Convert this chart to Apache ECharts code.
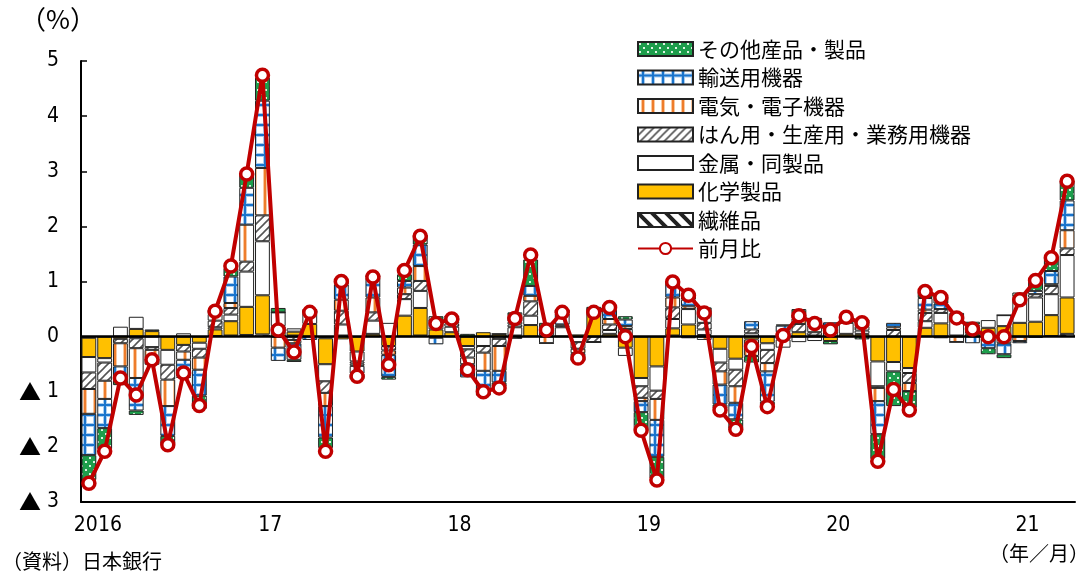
<!DOCTYPE html>
<html>
<head>
<meta charset="utf-8">
<script src="https://cdn.jsdelivr.net/npm/echarts@6/dist/echarts.min.js"></script>
<style>
  html, body { margin: 0; padding: 0; background: #fff; }
  #chart { width: 1091px; height: 576px; }
</style>
</head>
<body>
<div id="chart"></div>
<script>
// 月次カテゴリ（2016/1〜2021/3）
const months = [
  '2016-01','2016-02','2016-03','2016-04','2016-05','2016-06','2016-07','2016-08','2016-09','2016-10','2016-11','2016-12',
  '2017-01','2017-02','2017-03','2017-04','2017-05','2017-06','2017-07','2017-08','2017-09','2017-10','2017-11','2017-12',
  '2018-01','2018-02','2018-03','2018-04','2018-05','2018-06','2018-07','2018-08','2018-09','2018-10','2018-11','2018-12',
  '2019-01','2019-02','2019-03','2019-04','2019-05','2019-06','2019-07','2019-08','2019-09','2019-10','2019-11','2019-12',
  '2020-01','2020-02','2020-03','2020-04','2020-05','2020-06','2020-07','2020-08','2020-09','2020-10','2020-11','2020-12',
  '2021-01','2021-02','2021-03'
];
const yearLabels = ['2016', '17', '18', '19', '20', '21'];

// 寄与度（%ポイント）
const textile = [
  -0.02, 0, 0, -0.03, 0, 0, 0, 0, 0.01, 0.02, 0.03, 0.04,
  0, 0.02, 0, -0.03, 0.02, 0, 0, 0, 0, 0.02, 0, 0,
  0, 0, -0.04, -0.04, 0, 0, 0, 0, 0, 0, 0.02, 0,
  0, 0.02, 0, 0, 0, 0, 0, 0, 0.01, 0, 0, 0,
  0, 0, 0, 0, 0, 0, 0, 0, 0, -0.03, 0, 0,
  0, 0.01, 0.05
];
const chemical = [
  -0.35, -0.39, -0.04, 0.14, 0.10, -0.24, -0.15, -0.11, 0.12, 0.26, 0.51, 0.71,
  0.19, 0.07, 0.23, -0.47, -0.05, -0.27, 0.05, -0.17, 0.38, 0.50, 0.13, 0.08,
  -0.17, 0.08, 0.05, 0.02, 0.21, 0.02, 0, 0.04, 0.50, 0.05, -0.20, -0.75,
  -0.54, 0.13, 0.22, 0.03, -0.22, -0.40, -0.05, -0.12, -0.05, 0.08, 0.02, -0.08,
  0.05, 0.05, -0.45, -0.46, -0.57, 0.16, 0.24, 0.02, 0.05, 0.16, 0.19, 0.25,
  0.27, 0.38, 0.66
];
const metal = [
  -0.28, -0.08, 0.18, 0.22, -0.19, -0.27, 0.06, -0.11, 0.04, 0.12, 0.64, 0.98,
  0.25, 0.06, 0.22, -0.31, 0.20, -0.18, 0.24, 0.25, 0.30, 0.31, 0.16, 0.10,
  -0.06, -0.17, 0, 0.15, 0.17, 0.15, 0.17, -0.10, 0, 0.07, -0.15, -0.15,
  -0.44, 0.17, 0.28, 0.10, -0.25, -0.20, 0.06, -0.12, -0.15, -0.10, -0.08, 0.10,
  0.20, 0.06, -0.45, -0.17, -0.09, 0.12, 0.19, 0.35, 0.06, 0.14, 0.20, 0.45,
  0.44, 0.38, 0.77
];
const machinery = [
  -0.30, -0.33, -0.08, -0.18, -0.05, -0.27, -0.12, -0.16, 0.12, 0.12, 0.18, 0.47,
  0, -0.06, 0, -0.21, 0.25, -0.04, 0.15, -0.08, 0.09, 0.18, 0, 0.06,
  -0.15, -0.12, -0.13, 0.05, 0.26, 0, 0.03, -0.12, -0.10, 0.10, 0.12, -0.21,
  -0.15, 0.21, -0.03, 0.12, -0.16, -0.30, 0.07, -0.24, 0.05, 0.15, 0.06, 0.05,
  0.03, 0.08, -0.03, 0.12, -0.18, 0.15, 0.07, 0, 0.08, -0.03, 0, 0.02,
  0.06, 0.15, 0.12
];
const electric = [
  -0.45, -0.33, -0.42, -0.54, -0.15, -0.48, -0.15, -0.22, 0.12, 0.09, 0.67, 0.86,
  -0.20, -0.06, 0, -0.24, 0.20, -0.04, 0.27, -0.08, 0.12, 0.27, -0.02, 0.04,
  -0.12, -0.33, -0.45, 0.05, 0.10, -0.12, 0.02, -0.08, 0, 0.10, 0.05, -0.06,
  -0.38, 0.18, 0.05, -0.06, -0.24, -0.30, -0.30, -0.15, 0.02, 0.10, 0.12, 0.05,
  0.03, 0.04, -0.24, 0.05, -0.15, 0.06, -0.03, -0.10, 0.03, 0, -0.12, -0.08,
  -0.02, 0.03, 0.33
];
const transport = [
  -0.75, -0.53, -0.20, -0.59, -0.12, -0.54, -0.30, -0.47, 0.08, 0.48, 0.67, 1.22,
  -0.24, -0.30, -0.06, -0.57, 0.28, -0.14, 0.36, -0.40, 0.12, 0.39, -0.12, 0.06,
  -0.24, -0.39, -0.21, 0.10, 0.18, 0, 0.20, -0.12, 0, 0.17, 0.12, -0.20,
  -0.67, 0.27, 0.12, 0.18, -0.36, -0.30, 0.15, -0.55, 0.12, 0.08, 0.12, 0.06,
  0.02, 0.08, -0.60, 0.08, 0, 0.21, 0.10, 0, -0.12, -0.15, -0.20, -0.04,
  0.06, 0.24, 0.54
];
const others = [
  -0.45, -0.38, -0.14, -0.08, 0.03, -0.15, -0.03, -0.24, 0.02, 0.15, 0.27, 0.42,
  0.08, -0.04, 0.05, -0.19, 0.07, -0.10, 0.05, -0.05, 0.12, 0.18, 0.08, 0.04,
  0.05, -0.06, -0.08, 0.07, 0.48, 0.08, 0.07, 0, 0.04, 0.06, 0.06, -0.33,
  -0.39, 0.01, 0.12, 0.10, -0.08, -0.17, -0.12, -0.06, 0.02, 0.09, 0.02, -0.06,
  0.02, -0.05, -0.45, -0.63, -0.30, 0.12, 0.12, 0.06, 0.05, -0.11, -0.07, 0.08,
  0.18, 0.25, 0.36
];
// 前月比（%）
const momChange = [
  -2.66, -2.08, -0.75, -1.06, -0.42, -1.96, -0.66, -1.25, 0.46, 1.28, 2.95, 4.74,
  0.12, -0.28, 0.44, -2.08, 1.00, -0.72, 1.08, -0.51, 1.20, 1.82, 0.24, 0.32,
  -0.60, -1.00, -0.93, 0.33, 1.48, 0.12, 0.44, -0.39, 0.44, 0.53, 0.00, -1.70,
  -2.60, 0.99, 0.75, 0.43, -1.33, -1.68, -0.18, -1.27, 0.02, 0.38, 0.24, 0.12,
  0.35, 0.25, -2.26, -0.96, -1.33, 0.82, 0.71, 0.34, 0.14, 0.00, 0.00, 0.67,
  1.02, 1.43, 2.82
];

// 塗りパターン
function makePattern(w, h, draw) {
  const c = document.createElement('canvas');
  c.width = w;
  c.height = h;
  const g = c.getContext('2d');
  g.fillStyle = '#fff';
  g.fillRect(0, 0, w, h);
  draw(g);
  return { image: c, repeat: 'repeat' };
}
const fillOthers = makePattern(8, 8, g => {
  g.fillStyle = '#1e9e4c';
  g.fillRect(0, 0, 8, 8);
  g.fillStyle = '#dff5e4';
  g.fillRect(1, 1, 2, 2);
  g.fillRect(5, 5, 2, 2);
});
const fillTransport = makePattern(10, 10, g => {
  g.fillStyle = '#a9cdf0';
  g.fillRect(3, 0, 4, 10);
  g.fillRect(0, 3, 10, 4);
  g.fillStyle = '#1a74cc';
  g.fillRect(4, 0, 2, 10);
  g.fillRect(0, 4, 10, 2);
});
const fillElectric = makePattern(10, 4, g => {
  g.fillStyle = '#f9c8a0';
  g.fillRect(3, 0, 4, 4);
  g.fillStyle = '#ee7d2c';
  g.fillRect(4, 0, 2, 4);
});
const fillMachinery = makePattern(8, 8, g => {
  g.strokeStyle = '#555';
  g.lineWidth = 1.6;
  g.beginPath();
  g.moveTo(0, 8); g.lineTo(8, 0);
  g.moveTo(-2, 2); g.lineTo(2, -2);
  g.moveTo(6, 10); g.lineTo(10, 6);
  g.stroke();
});
const fillTextile = makePattern(14, 14, g => {
  g.strokeStyle = '#222';
  g.lineWidth = 4;
  g.beginPath();
  g.moveTo(0, 0); g.lineTo(14, 14);
  g.moveTo(-7, 7); g.lineTo(7, 21);
  g.moveTo(7, -7); g.lineTo(21, 7);
  g.stroke();
});

const fontJP = "'Noto Sans CJK JP', sans-serif";
const fontNum = "'DejaVu Sans Condensed', 'Liberation Sans Narrow', 'Noto Sans CJK JP', sans-serif";

function barSeries(name, data, fill) {
  return {
    name: name,
    type: 'bar',
    stack: 'total',
    barCategoryGap: '6%',
    data: data,
    itemStyle: { color: fill, borderColor: '#222', borderWidth: 1 }
  };
}

const chart = echarts.init(document.getElementById('chart'));
chart.setOption({
  animation: false,
  grid: { left: 81, right: 16, top: 61, bottom: 74, containLabel: false },
  legend: {
    orient: 'vertical',
    left: 632,
    top: 33,
    itemWidth: 55,
    itemHeight: 14,
    itemGap: 6.5,
    textStyle: { fontFamily: fontJP, fontSize: 21, color: '#000', lineHeight: 22 },
    data: [
      { name: 'その他産品・製品', icon: 'rect' },
      { name: '輸送用機器', icon: 'rect' },
      { name: '電気・電子機器', icon: 'rect' },
      { name: 'はん用・生産用・業務用機器', icon: 'rect' },
      { name: '金属・同製品', icon: 'rect' },
      { name: '化学製品', icon: 'rect' },
      { name: '繊維品', icon: 'rect' },
      { name: '前月比' }
    ]
  },
  xAxis: {
    type: 'category',
    data: months,
    boundaryGap: true,
    axisLine: { onZero: false, lineStyle: { color: '#000', width: 2 } },
    axisTick: {
      interval: (i) => i % 12 === 0,
      length: 7,
      lineStyle: { color: '#000', width: 1.5 }
    },
    axisLabel: {
      interval: (i) => i % 12 === 0,
      margin: 13,
      fontFamily: fontNum,
      fontSize: 21,
      color: '#000',
      formatter: (v, i) => {
        const k = Math.floor(i / 12);
        return k === 0 ? '{b|' + yearLabels[k] + '}' : '{a|' + yearLabels[k] + '}';
      },
      rich: {
        a: { fontFamily: fontNum, fontSize: 21, color: '#000', padding: [0, 16, 0, 0] },
        b: { fontFamily: fontNum, fontSize: 21, color: '#000', padding: [0, 0, 0, 18] }
      }
    },
    splitLine: { show: false }
  },
  yAxis: {
    type: 'value',
    min: -3,
    max: 5,
    interval: 1,
    axisLine: { show: true, lineStyle: { color: '#000', width: 2 } },
    axisTick: { show: true, inside: true, length: 6, lineStyle: { color: '#000', width: 1.5 } },
    axisLabel: {
      margin: 22,
      fontFamily: fontNum,
      fontSize: 21,
      color: '#000',
      formatter: (v) => (v < 0 ? '{t|▲}' + ' ' + (-v) : String(v)),
      rich: {
        t: { fontFamily: fontJP, fontSize: 22, color: '#000' }
      }
    },
    splitLine: { show: false }
  },
  series: [
    barSeries('繊維品', textile, fillTextile),
    barSeries('化学製品', chemical, '#ffc000'),
    barSeries('金属・同製品', metal, '#ffffff'),
    barSeries('はん用・生産用・業務用機器', machinery, fillMachinery),
    barSeries('電気・電子機器', electric, fillElectric),
    barSeries('輸送用機器', transport, fillTransport),
    barSeries('その他産品・製品', others, fillOthers),
    {
      name: '前月比',
      type: 'line',
      data: momChange,
      z: 5,
      symbol: 'circle',
      symbolSize: 12,
      showAllSymbol: true,
      lineStyle: { color: '#c00000', width: 4 },
      itemStyle: { color: '#ffffff', borderColor: '#c00000', borderWidth: 3.5 },
      markLine: {
        silent: true,
        symbol: ['none', 'none'],
        label: { show: false },
        lineStyle: { color: '#000', width: 2.5, type: 'solid' },
        data: [{ yAxis: 0 }]
      }
    }
  ],
  graphic: [
    { type: 'text', left: 20, top: 6, style: { text: '（%）', font: '26px ' + fontJP, fill: '#000' } },
    { type: 'text', left: 2, top: 551, style: { text: '（資料）日本銀行', font: '20px ' + fontJP, fill: '#000' } },
    { type: 'text', right: 2, top: 543, style: { text: '（年／月）', font: '20px ' + fontJP, fill: '#000' } }
  ]
});
</script>
</body>
</html>
